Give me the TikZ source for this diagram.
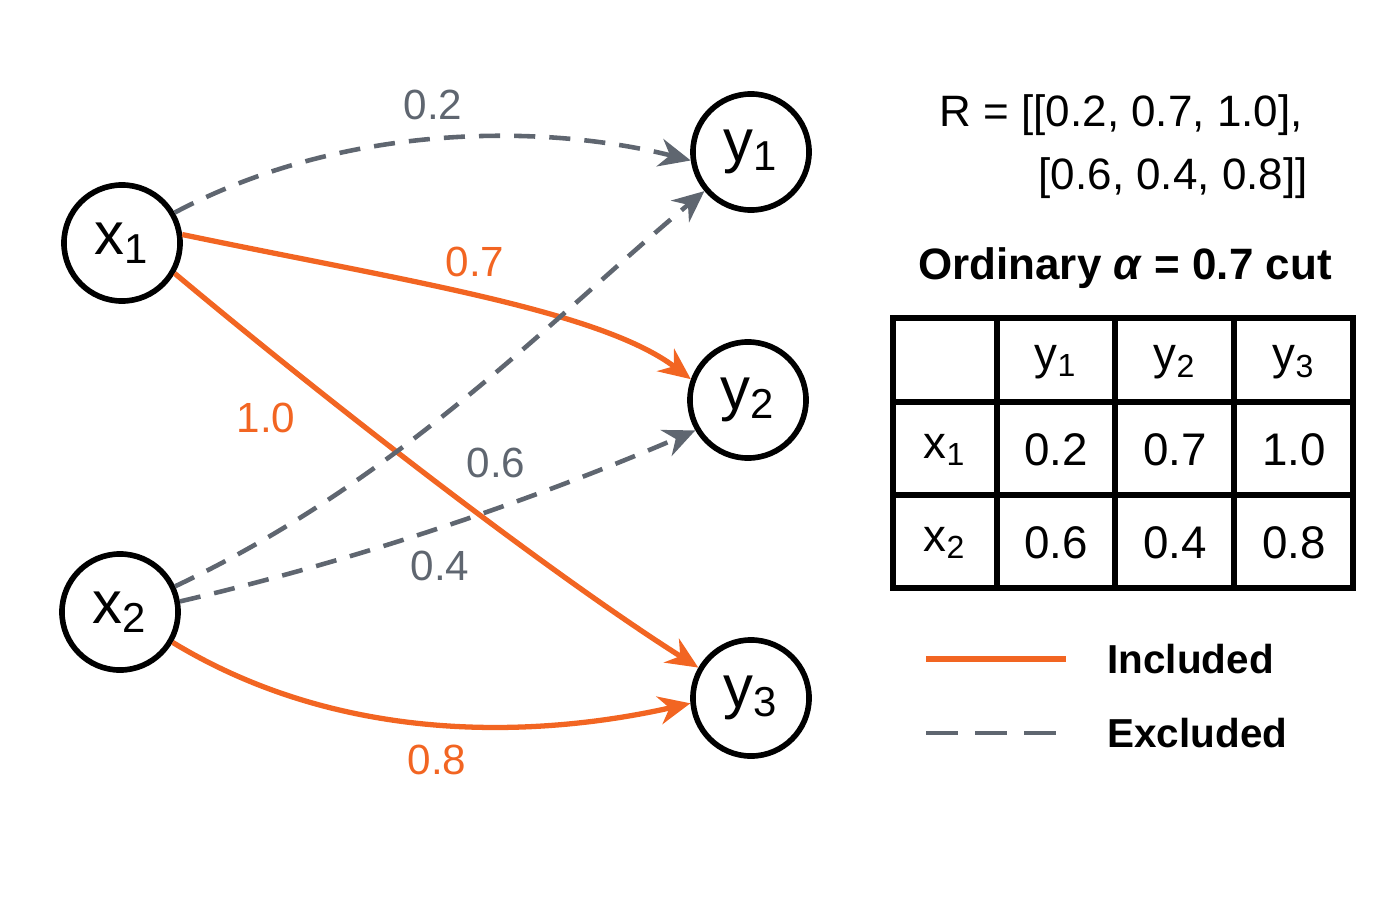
\documentclass[tikz,border=0pt]{standalone}
\usepackage{fontspec}
\setmainfont{Liberation Sans}
\usetikzlibrary{arrows.meta}
\definecolor{incl}{HTML}{F26522}
\definecolor{excl}{HTML}{5F6670}
\tikzset{
  vert/.style={circle,draw=black,line width=1.6pt,minimum size=1.16cm,inner sep=0pt,font=\fontsize{17}{20}\selectfont},
  inc/.style={draw=incl,line width=1.5pt,-{Stealth[length=9pt,width=8pt]}},
  exc/.style={draw=excl,line width=1.3pt,dash pattern=on 6pt off 4pt,-{Stealth[length=9pt,width=8pt]}},
  wlab/.style={font=\fontsize{12}{14}\selectfont},
  cell/.style={font=\fontsize{13}{15}\selectfont}
}
\newcommand{\subi}[1]{\textsubscript{#1}}
\begin{document}
\begin{tikzpicture}[x=0.01cm,y=-0.01cm]
  \useasboundingbox (0,0) rectangle (1400,900);
  \node[vert] (x1) at (122,243) {x\subi{1}};
  \node[vert] (x2) at (120,612) {x\subi{2}};
  \node[vert] (y1) at (751,152) {y\subi{1}};
  \node[vert] (y2) at (748,400) {y\subi{2}};
  \node[vert] (y3) at (751,698) {y\subi{3}};
  % edges
  \draw[exc] (x1.30) .. controls (350,120) and (550,125) .. (y1.188);
  \draw[inc] (x1.8) .. controls (400,280) and (600,310) .. (y2.160);
  \draw[inc] (x1.-30) .. controls (350,420) and (560,580) .. (y3.150);
  \draw[exc] (x2.25) .. controls (400,480) and (550,320) .. (y1.-140);
  \draw[exc] (x2.10) .. controls (400,550) and (580,480) .. (y2.-150);
  \draw[inc] (x2.-30) .. controls (350,750) and (550,735) .. (y3.185);
  % weights
  \node[wlab,text=excl] (w11) at (433,105) {0.2};
  \node[wlab,text=incl] (w12) at (475,262) {0.7};
  \node[wlab,text=incl] (w13) at (266,418) {1.0};
  \node[wlab,text=excl] (w21) at (496,463) {0.6};
  \node[wlab,text=excl] (w22) at (440,566) {0.4};
  \node[wlab,text=incl] (w23) at (437,760) {0.8};
  % matrix text
  \node[font=\fontsize{12.5}{15}\selectfont,anchor=east] (r1) at (1315,115) {R = [[0.2, 0.7, 1.0],};
  \node[font=\fontsize{12.5}{15}\selectfont,anchor=east] (r2) at (1320,178) {[0.6, 0.4, 0.8]]};
  \node[font=\bfseries\fontsize{12.5}{15}\selectfont] (ttl) at (1125,268) {Ordinary \textit{α} = 0.7 cut};
  % table
  \draw[line width=1.6pt] (893,318) rectangle (1353,588);
  \foreach \cx in {997,1115,1234} \draw[line width=1.6pt] (\cx,318) -- (\cx,588);
  \foreach \cy in {402,495} \draw[line width=1.6pt] (893,\cy) -- (1353,\cy);
  \node[cell] (c01) at (1056,362) {y\subi{1}};
  \node[cell] (c02) at (1175,362) {y\subi{2}};
  \node[cell] (c03) at (1294,362) {y\subi{3}};
  \node[cell] (c10) at (945,450) {x\subi{1}};
  \node[cell] (c11) at (1056,450) {0.2};
  \node[cell] (c12) at (1175,450) {0.7};
  \node[cell] (c13) at (1294,450) {1.0};
  \node[cell] (c20) at (945,543) {x\subi{2}};
  \node[cell] (c21) at (1056,543) {0.6};
  \node[cell] (c22) at (1175,543) {0.4};
  \node[cell] (c23) at (1294,543) {0.8};
  % legend
  \coordinate (li0) at (926,659);
  \coordinate (li1) at (1066,659);
  \coordinate (le0) at (926,733);
  \coordinate (le1) at (1066,733);
  \draw[draw=incl,line width=1.5pt] (li0) -- (li1);
  \draw[draw=excl,line width=1.3pt,dash pattern=on 9pt off 5pt] (le0) -- (le1);
  \node[font=\bfseries\fontsize{11.5}{14}\selectfont,anchor=west] (lgi) at (1095,659) {Included};
  \node[font=\bfseries\fontsize{11.5}{14}\selectfont,anchor=west] (lge) at (1095,733) {Excluded};
\end{tikzpicture}
\end{document}
